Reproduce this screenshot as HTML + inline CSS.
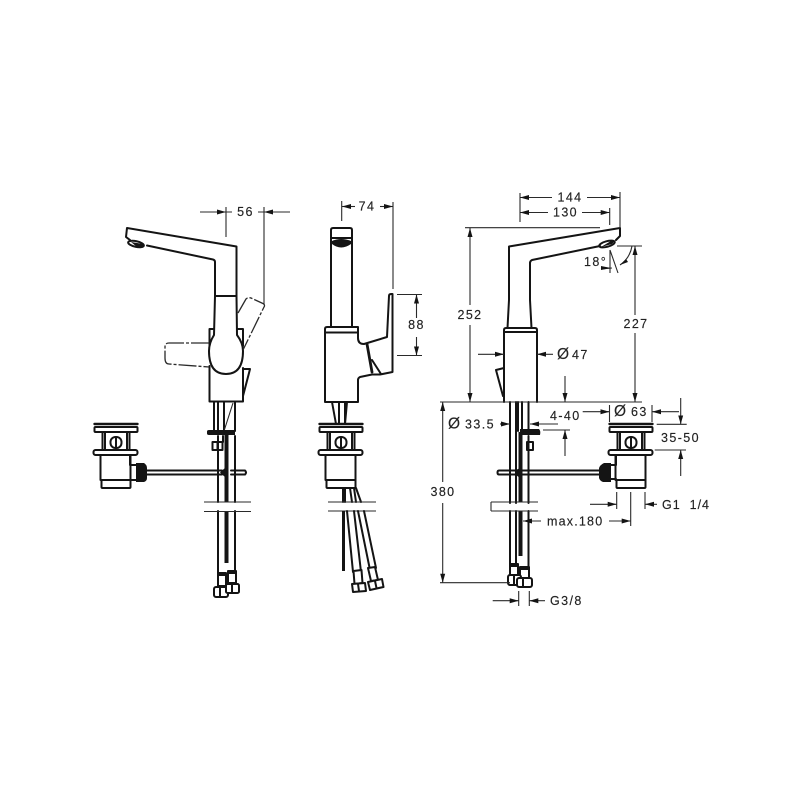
<!DOCTYPE html>
<html><head><meta charset="utf-8"><style>
html,body{margin:0;padding:0;background:#fff}
svg{display:block}
text{font-family:"Liberation Sans",sans-serif;font-size:12.500px;letter-spacing:1.400px;fill:#222;stroke:#222;stroke-width:.15;dominant-baseline:central}
.p{font-size:15.500px;letter-spacing:0}
.o{fill:none;stroke:#141414;stroke-width:2;stroke-linejoin:round;stroke-linecap:round}
.w{fill:#fff;stroke:#141414;stroke-width:2;stroke-linejoin:round}
.t{fill:none;stroke:#2a2a2a;stroke-width:1.100}
.a{fill:none;stroke:#2a2a2a;stroke-width:1.100;marker-end:url(#ar)}
.k{fill:#141414;stroke:none}
.d{fill:none;stroke:#2a2a2a;stroke-width:1.300;stroke-dasharray:18 2 3 2;stroke-linejoin:round}
</style></head><body>
<svg width="800" height="800" viewBox="0 0 800 800" xmlns="http://www.w3.org/2000/svg">
<defs>
<marker id="ar" markerUnits="userSpaceOnUse" markerWidth="10" markerHeight="6" refX="9" refY="3" orient="auto"><path d="M0 .5L9 3L0 5.500z" fill="#141414"/></marker>
<g id="drain">
  <path class="o" d="M-21 0H22" style="stroke-width:2.400"/>
  <rect class="w" x="-21" y="3" width="43" height="5" rx="1"/>
  <path class="o" d="M-13 8V26M14 8V26M-10.500 8V26M11.500 8V26"/>
  <rect class="o" x="-5" y="13" width="11" height="11" rx="5"/>
  <path class="o" d="M.5 13V24"/>
  <rect class="w" x="-22" y="26" width="44" height="5" rx="2"/>
  <path class="o" d="M-15 31V56M15 31V56"/>
  <path class="o" d="M-14 56H15M-14 56V63Q-14 64 -13 64H14Q15 64 15 63V56"/>
</g>
</defs>

<!-- LEFT VIEW -->
<path class="o" d="M127 228L236.500 246.500V296M215 296V262Q215 260 213 259.500L147 245.500M127 228L126 237L130 240"/>
<ellipse cx="136" cy="244" rx="8" ry="2.800" transform="rotate(12 136 244)" class="o"/>
<path class="k" d="M131 242L143 244L144 247L137 247z"/>
<path class="o" d="M209.500 329V346M209.500 366V401.500H243V368M243 346V329M209.500 329H214M237 329H243"/>
<path class="w" d="M215 296H236.500L237 335Q243 343 243 351Q243 374 226 374Q209 374 209 351Q209 343 214 335z"/>
<path class="d" d="M209 343H169Q165 343 165 347V358Q165 364 169 364L209 367"/>
<path class="d" d="M238 313L246 299Q248 297 251 298L264 304Q265 306 264 307L243 350"/>
<path class="o" d="M243 369L250 369L249 373L243 396"/>
<!-- legs -->
<path class="o" d="M214 402V431M218 402V431M224 402V431M235 402V431M218 436V502M235 436V502M218 511V575M235 511V572"/>
<path class="k" d="M224.500 432h4v70h-4zM224.500 511h4v52h-4z"/>
<path class="t" d="M233 403L224 431"/>
<path class="k" d="M207 431.500Q207 430 209 430H235V435H209Q207 435 207 433.500z"/>
<rect class="o" x="212.500" y="442" width="10" height="8"/>
<path class="o" d="M217.500 442V450"/>
<path class="o" d="M223 436V442"/>
<path class="t" d="M204 502H251M204 511.500H251"/>
<use href="#drain" x="115.500" y="424"/>
<path class="o" d="M130 455V465H136M131 480H136"/>
<path class="k" d="M136 463H144Q147 465 147 468V478Q147 481 144 482H136z"/>
<path class="o" d="M147 470.500H222M147 474.500H222M231 470.500H245Q247 472.500 245 474.500H231"/>
<path class="k" d="M220 472.500L226 467H228.500V478H226z"/>
<rect class="w" x="218" y="573" width="8" height="13"/>
<rect class="w" x="228" y="571" width="8" height="12"/>
<path class="k" d="M218 573h8v3h-8zM228 571h8v3h-8z"/>
<rect class="w" x="214" y="587" width="14" height="10" rx="2"/>
<rect class="w" x="226" y="584" width="13" height="9" rx="1.500"/>
<path class="o" d="M220 587V597M232 584V593"/>
<path class="a" d="M200 212H226"/>
<path class="t" d="M226 212H232M264 212H258"/>
<path class="a" d="M290 212H264"/>
<path class="t" d="M226 207V237M264 207V305"/>
<text x="245.500" y="212" text-anchor="middle">56</text>

<!-- MIDDLE VIEW -->
<path class="o" d="M331 327V230Q331 228 333 228H350Q352 228 352 230V327"/>
<path class="o" d="M332 238H351"/>
<path class="k" d="M332 241Q341 237 351 241V244Q341 251 332 244z"/>
<path class="o" d="M325 402V329Q325 327 327 327H358V338Q358 344 364 344L387 337L389 296Q389 294 391 294H392.500V372L380 374.500H372L360 377Q358 378 358 380V402H325"/>
<path class="o" d="M325 332.500H358"/>
<path class="o" d="M367 344L372 372" style="stroke-width:2.800"/>
<path class="o" d="M372 360L381 374"/>
<path class="o" d="M332 402L336 424M339 402V424M345 402V424M347 402L345 424"/>
<use href="#drain" x="340.500" y="424"/>
<path class="o" d="M343 488V502M345 488V502M350 488L352 502M354 488L356 502M356 488L361 502"/>
<path class="t" d="M328 502H376M328 511H376"/>
<path class="k" d="M342 511h3v60h-3z"/>
<path class="o" d="M347 511L353 572M354 511L361 572M358 511L370 570M364 511L376 568"/>
<path class="w" d="M353.500 571L361.500 570L362.500 583L354.500 584z"/>
<path class="w" d="M368 568L375 567L378 580L371 581z"/>
<path class="w" d="M352 584L365 583L366 591L353 592z"/>
<path class="w" d="M368 582L382 579L383.500 587L370 590z"/>
<path class="o" d="M358 584L359 591M375 581L376.500 588"/>
<path class="a" d="M355 206.500H342"/>
<path class="a" d="M380 206.500H393"/>
<path class="t" d="M341.700 201V221M393 202V289"/>
<text x="367" y="206.500" text-anchor="middle">74</text>
<path class="t" d="M397 294.500H422M397 355.500H422"/>
<path class="a" d="M416.500 318V294.500"/>
<path class="a" d="M416.500 337V355.500"/>
<text x="416.500" y="325" text-anchor="middle">88</text>

<!-- RIGHT VIEW -->
<path class="o" d="M620 228L509 246.500V300L507.500 328M530 300V263Q530 261 532 260L600 246M530 300L531.500 328M620 228V236L616 240"/>
<ellipse cx="607" cy="244" rx="8" ry="2.800" transform="rotate(-15 607 244)" class="o"/>
<path class="k" d="M601 247L611 241L615 241L612 244z"/>
<path class="o" d="M504 402V330Q504 328 506 328H535Q537 328 537 330V402"/>
<path class="o" d="M504 332H537"/>
<path class="o" d="M504 368L496 370L503 396"/>
<path class="o" d="M510 402V503M516 402V503M528.500 402V431M518 402V431M510 511V564M516 511V564M528.500 436V503M528.500 511V578M522 402V431"/>
<path class="k" d="M518.500 432h4v70h-4zM518.500 511h4v45h-4z"/>
<path class="k" d="M520 429H539Q541 431 540 435H520z"/>
<rect class="o" x="527" y="442" width="6" height="8"/>
<path class="o" d="M499 470.500H517M499 474.500H517M497.500 472.500Q497.500 470.500 499 470.500M497.500 472.500Q497.500 474.500 499 474.500"/>
<path class="k" d="M516 470L520 468L522 472L520 478L516 475z"/>
<path class="o" d="M522 470.500H600M522 474.500H600"/>
<path class="t" d="M491 502H538M491 511H538M491 502V511"/>
<rect class="w" x="510" y="564" width="8" height="11"/>
<rect class="w" x="520" y="567" width="9" height="11"/>
<path class="k" d="M510 564h8v3h-8zM520 567h9v3h-9z"/>
<rect class="w" x="508" y="575" width="13" height="10" rx="2"/>
<rect class="w" x="517" y="578" width="15" height="9" rx="2"/>
<path class="o" d="M523 578V587M514 575V585"/>
<use href="#drain" x="630.500" y="424"/>
<path class="o" d="M616 455V465H611M616 479H611"/>
<path class="k" d="M611 463H604Q600 465 599 468V478Q600 481 603 482H611z"/>

<!-- dims right -->
<path class="t" d="M520 193V222M620 192V228M609.700 208V225"/>
<path class="a" d="M552 197.500H520"/>
<path class="a" d="M587 197.500H620"/>
<path class="a" d="M548 212.500H520"/>
<path class="a" d="M582 212.500H609.700"/>
<text x="570" y="197.500" text-anchor="middle">144</text>
<text x="565.500" y="212.500" text-anchor="middle">130</text>
<path class="t" d="M465 227.700H600M440 402H642"/>
<path class="a" d="M470 305V228"/>
<path class="a" d="M470 325V402"/>
<text x="470" y="315" text-anchor="middle">252</text>
<path class="t" d="M617 246H642"/>
<path class="a" d="M635 315V246"/>
<path class="a" d="M635 333V402"/>
<text x="636" y="324" text-anchor="middle">227</text>
<path class="t" d="M610 250V273M610 250L618 273"/>
<path class="t" d="M632 246Q630 258 620 265"/>
<path class="k" d="M620 265L626 259L628 262z"/>
<path class="t" d="M601 269L612 268"/>
<path class="k" d="M611 268L601 266V270z"/>
<text x="584" y="262">18°</text>
<path class="a" d="M478 354.300H504"/>
<path class="a" d="M553 354.300H537"/>
<text x="557" y="354.500" class="p">Ø</text>
<text x="572" y="355">47</text>
<path class="a" d="M565 376V402"/>
<path class="a" d="M442.700 482V402"/>
<path class="a" d="M442.700 503V582.700"/>
<text x="443" y="492" text-anchor="middle">380</text>
<path class="t" d="M440 582.700H510"/>
<text x="448" y="424" class="p">Ø</text>
<text x="465" y="424.500">33.5</text>
<path class="a" d="M500 424H510"/>
<path class="a" d="M558 424H530"/>
<path class="t" d="M543 430H570"/>
<path class="a" d="M565 456V430"/>
<text x="550" y="416">4-40</text>
<path class="a" d="M582.700 411.700H609.500"/>
<path class="a" d="M679 411.700H652"/>
<path class="t" d="M609.500 405V422M652 405V422"/>
<text x="614" y="411.500" class="p">Ø</text>
<text x="631" y="412">63</text>
<path class="t" d="M656.700 424.300H686.700M654.700 450H686"/>
<path class="a" d="M680.700 398V424.300"/>
<path class="a" d="M680.700 476V450"/>
<text x="661" y="438">35-50</text>
<path class="t" d="M616.700 492V509M630.700 492V526M645 492V509"/>
<path class="a" d="M590 504.300H616.700"/>
<path class="a" d="M657 504.300H645"/>
<text x="662" y="505" style="letter-spacing:1px;white-space:pre">G1  1/4</text>
<path class="a" d="M541 521H523"/>
<text x="547" y="521.500" style="letter-spacing:1.200px">max.180</text>
<path class="a" d="M609 521H630.700"/>
<path class="t" d="M518.700 591V606M529.300 591V606"/>
<path class="a" d="M492.700 600.700H518.700"/>
<path class="a" d="M545 600.700H529.300"/>
<text x="550" y="601">G3/8</text>
</svg>
</body></html>
